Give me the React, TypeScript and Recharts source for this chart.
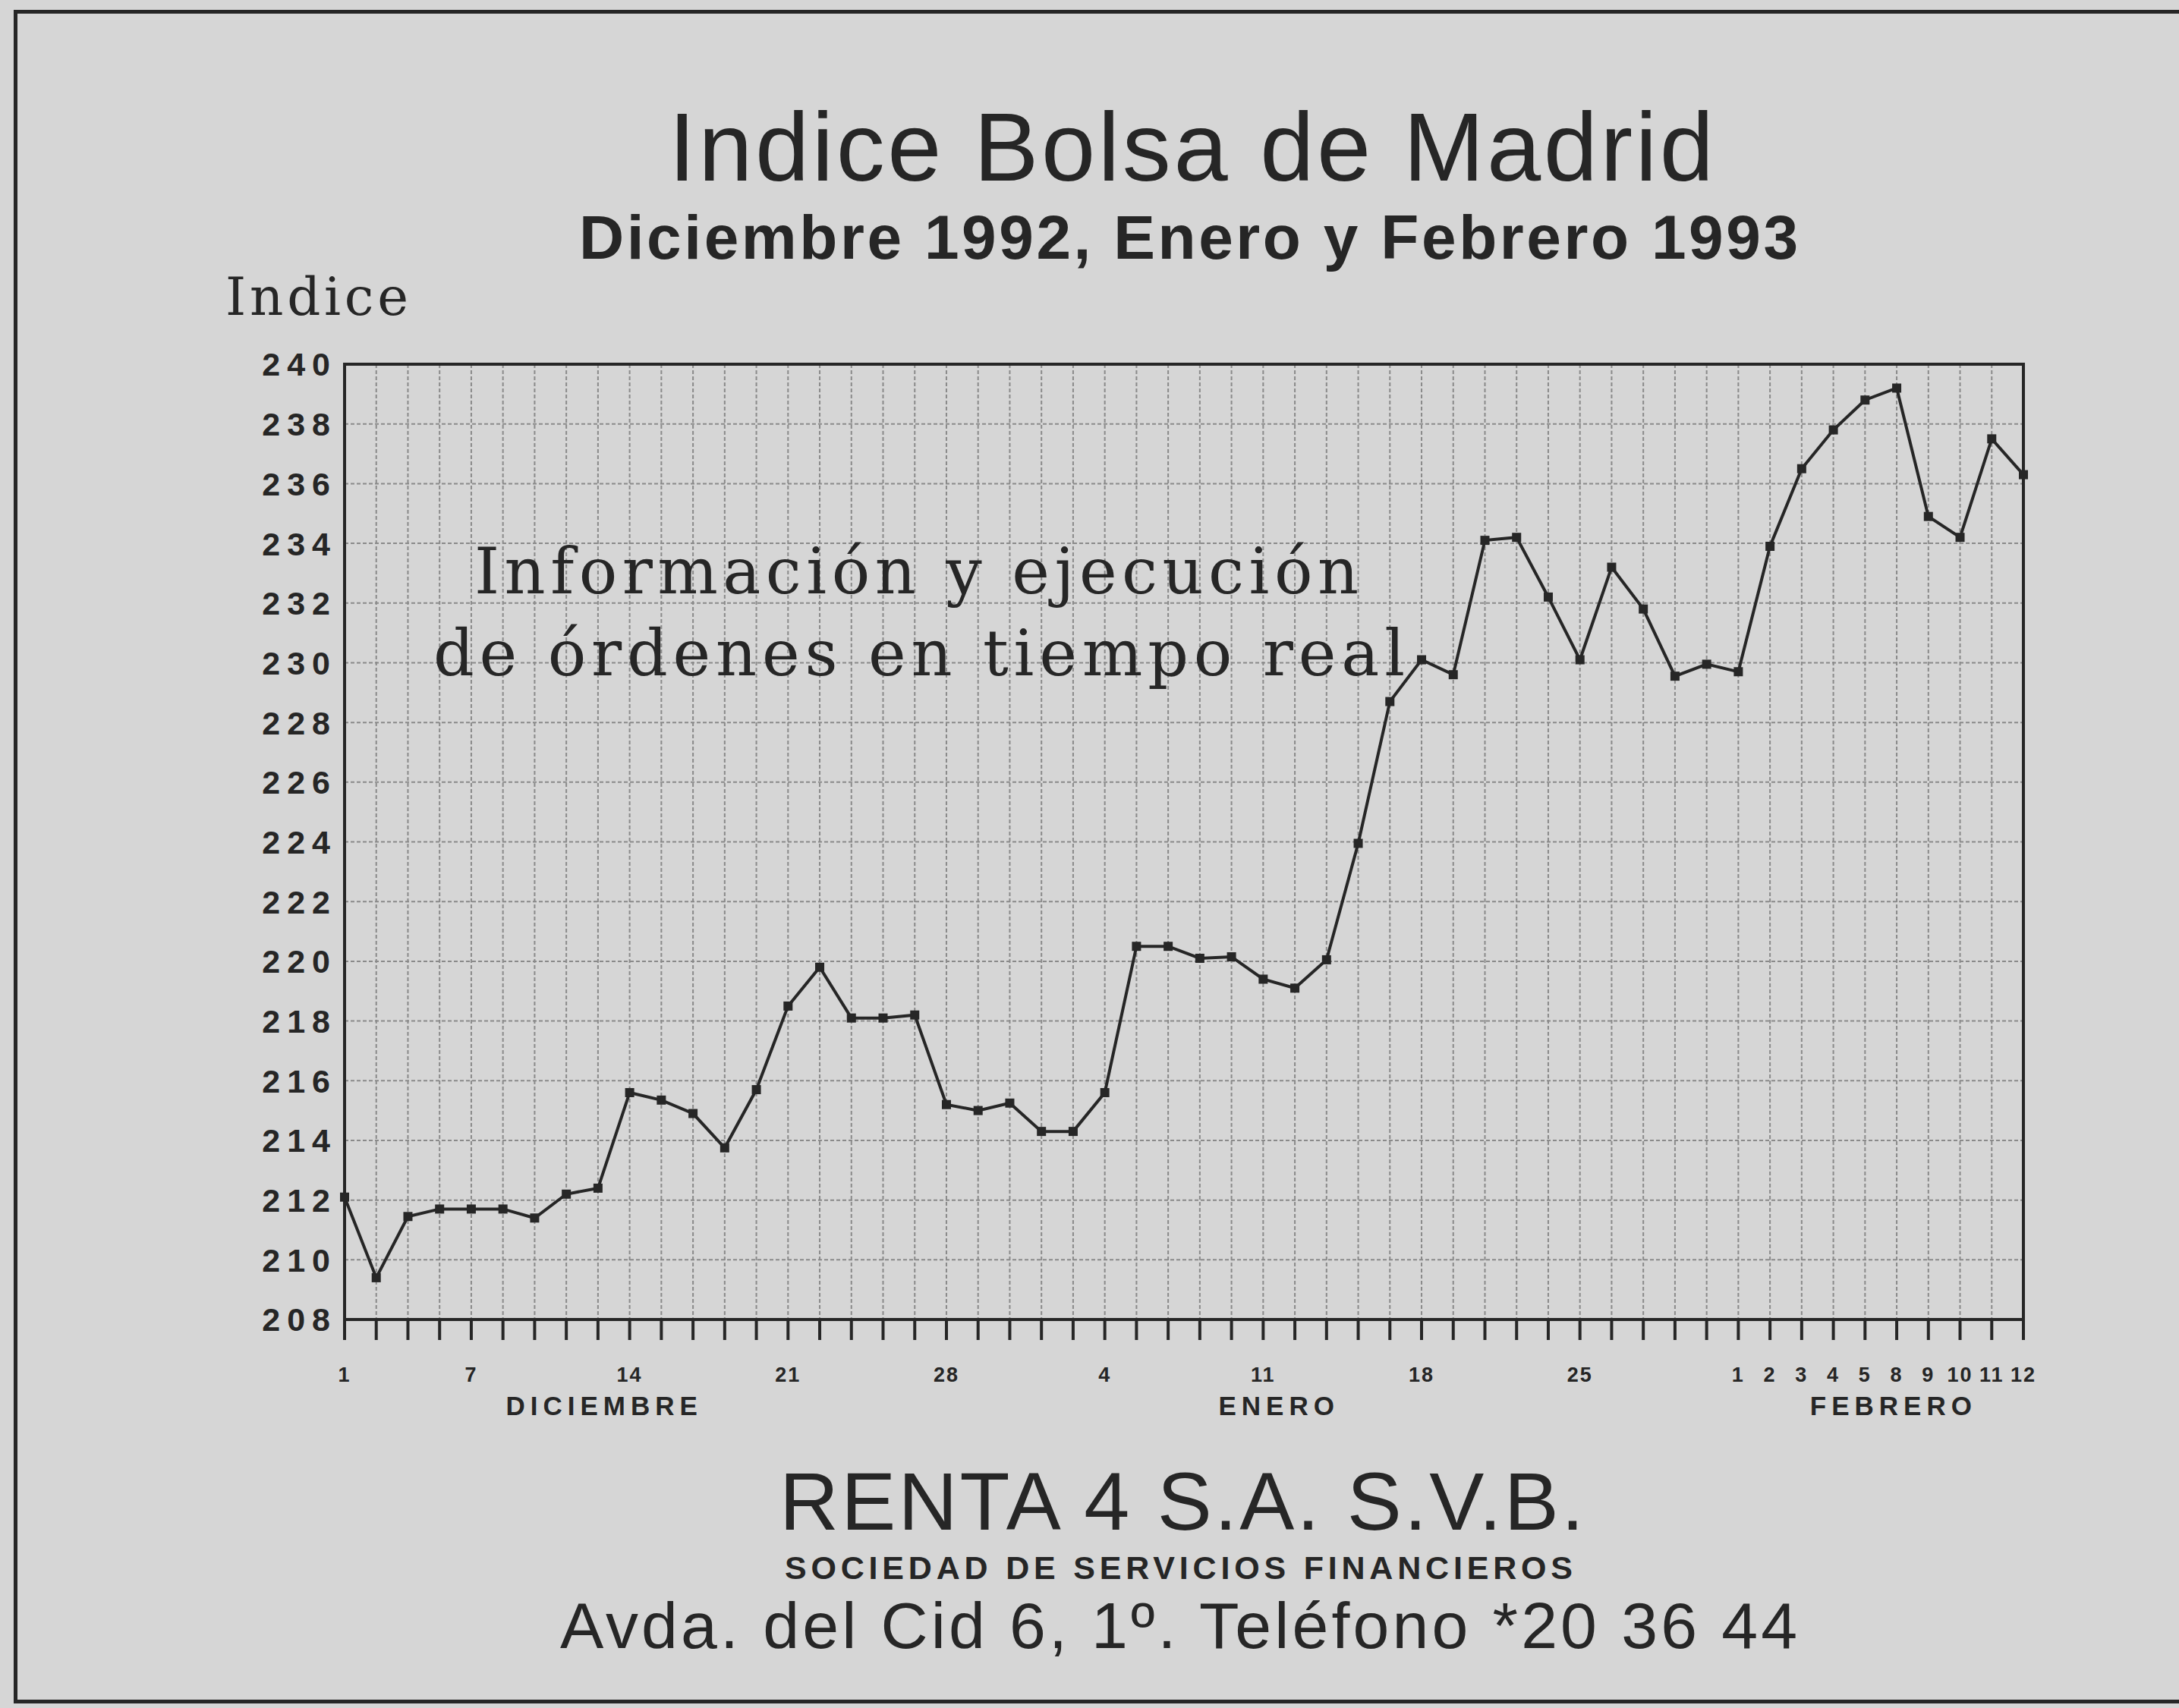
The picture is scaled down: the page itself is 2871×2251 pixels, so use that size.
import React from 'react'
import { LineChart, Line, XAxis, YAxis, CartesianGrid, ReferenceArea } from 'recharts'

// trading days, Dec 1992 - Feb 1993
const DAY_LABELS = [
  '1', '', '', '', '7', '', '', '', '', '14',
  '', '', '', '', '21', '', '', '', '', '28',
  '', '', '', '', '4', '', '', '', '', '11',
  '', '', '', '', '18', '', '', '', '', '25',
  '', '', '', '', '1', '2', '3', '4', '5', '8',
  '9', '10', '11', '12',
]

const INDICE = [
  212.1, 209.4, 211.45, 211.7, 211.7, 211.7, 211.4, 212.2, 212.4, 215.6,
  215.35, 214.9, 213.75, 215.7, 218.5, 219.8, 218.1, 218.1, 218.2, 215.2,
  215.0, 215.25, 214.3, 214.3, 215.6, 220.5, 220.5, 220.1, 220.15, 219.4,
  219.1, 220.05, 223.95, 228.7, 230.1, 229.6, 234.1, 234.2, 232.2, 230.1,
  233.2, 231.8, 229.55, 229.95, 229.7, 233.9, 236.5, 237.8, 238.8, 239.2,
  234.9, 234.2, 237.5, 236.3,
]

const MONTHS = ['DICIEMBRE', 'ENERO', 'FEBRERO']
const MONTH_POS = [8.2, 29.5, 48.9]

const Y_TICKS = [208, 210, 212, 214, 216, 218, 220, 222, 224, 226, 228, 230, 232, 234, 236, 238, 240]

const W = 2871
const H = 2251
const INK = '#262626'
const PAPER = '#d6d6d6'

const data = INDICE.map((v, i) => ({ i, v }))
const dayTicks = DAY_LABELS.map((_, i) => i)

const DayTick = (props: any) => {
  const { x, y, payload } = props
  const label = DAY_LABELS[payload.value] || ''
  return (
    <text x={x} y={y + 55} textAnchor="middle" fill={INK}
      style={{ fontFamily: 'Liberation Sans', fontWeight: 700, fontSize: 27, letterSpacing: 2 }}>
      {label}
    </text>
  )
}

const MonthTick = (props: any) => {
  const { x, y, payload } = props
  const k = MONTH_POS.indexOf(payload.value)
  return (
    <text x={x} y={y + 36} textAnchor="middle" fill={INK}
      style={{ fontFamily: 'Liberation Sans', fontWeight: 700, fontSize: 35, letterSpacing: 7 }}>
      {k >= 0 ? MONTHS[k] : ''}
    </text>
  )
}

const YTick = (props: any) => {
  const { x, y, payload } = props
  return (
    <text x={x + 4} y={y} dy="0.36em" textAnchor="end" fill={INK}
      style={{ fontFamily: 'Liberation Sans', fontWeight: 700, fontSize: 43, letterSpacing: 9 }}>
      {payload.value}
    </text>
  )
}

const SquareDot = (props: any) => {
  const { cx, cy, index } = props
  return <rect key={`d-${index}`} x={cx - 6} y={cy - 6} width={12} height={12} fill={INK} />
}

export default function App() {
  return (
    <div style={{ position: 'absolute', left: 0, top: 0, width: W, height: H, background: PAPER, overflow: 'hidden' }}>
      {/* page frame */}
      <div style={{
        position: 'absolute', left: 18, top: 13, width: W, height: 2222,
        borderLeft: `5px solid ${INK}`, borderTop: `5px solid ${INK}`, borderBottom: `5px solid ${INK}`,
      }} />

      <div style={{ position: 'absolute', left: 0, top: 0 }}>
        <LineChart width={W} height={H} data={data}
          margin={{ top: 480, right: 205, bottom: 362, left: 294 }}>
          <CartesianGrid stroke="#8a8a8a" strokeWidth={2} strokeDasharray="5 3" />
          <XAxis dataKey="i" type="number" domain={[0, 53]} ticks={dayTicks} interval={0}
            height={90} tickSize={27} tickMargin={0} tick={DayTick}
            axisLine={{ stroke: INK, strokeWidth: 4 }} tickLine={{ stroke: INK, strokeWidth: 4 }} />
          <XAxis xAxisId="m" dataKey="i" type="number" domain={[0, 53]} ticks={MONTH_POS} interval={0}
            height={60} tickSize={0} tickMargin={0} tick={MonthTick} axisLine={false} tickLine={false} />
          <YAxis type="number" domain={[208, 240]} ticks={Y_TICKS} interval={0} width={160}
            tickSize={0} tickMargin={14} tick={YTick} tickLine={false}
            axisLine={{ stroke: INK, strokeWidth: 4 }} />
          <ReferenceArea x1={0} x2={53} y1={208} y2={240} fill="none" stroke={INK} strokeWidth={4} />
          <Line type="linear" dataKey="v" stroke={INK} strokeWidth={4} dot={SquareDot}
            activeDot={false} isAnimationActive={false} />
        </LineChart>
      </div>

      <svg width={W} height={H} style={{ position: 'absolute', left: 0, top: 0, pointerEvents: 'none' }}>
        <g fill={INK} style={{ fontFamily: 'Liberation Sans' }}>
          <text x={881} y={238} fontSize={128} textLength={1377} lengthAdjust="spacing">Indice Bolsa de Madrid</text>
          <text x={763} y={341} fontSize={82} fontWeight={700} textLength={1606} lengthAdjust="spacing">
            Diciembre 1992, Enero y Febrero 1993
          </text>
          <text x={1027} y={2016} fontSize={108} textLength={1060} lengthAdjust="spacing">RENTA 4 S.A. S.V.B.</text>
          <text x={1034} y={2081} fontSize={43} fontWeight={700} textLength={1038} lengthAdjust="spacing">
            SOCIEDAD DE SERVICIOS FINANCIEROS
          </text>
          <text x={738} y={2172} fontSize={86} textLength={1630} lengthAdjust="spacing">
            Avda. del Cid 6, 1º. Teléfono *20 36 44
          </text>
        </g>
        <g fill={INK} style={{ fontFamily: 'DejaVu Serif' }}>
          <text x={297} y={415} fontSize={69} textLength={241} lengthAdjust="spacing">Indice</text>
          <text x={625} y={782} fontSize={84} textLength={1165} lengthAdjust="spacing">Información y ejecución</text>
          <text x={571} y={890} fontSize={84} textLength={1280} lengthAdjust="spacing">de órdenes en tiempo real</text>
        </g>
      </svg>
    </div>
  )
}
